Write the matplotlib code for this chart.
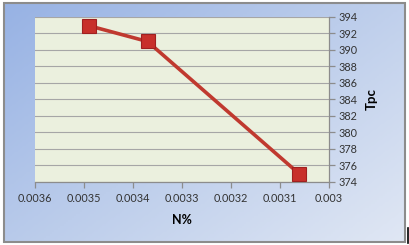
import numpy as np
import matplotlib.pyplot as plt
from matplotlib.colors import LinearSegmentedColormap
from matplotlib.patches import Rectangle

# data
n_pct = [0.003489, 0.00337, 0.003061]
tpc = [392.9, 391.0, 375.0]
x_ticks = [0.0036, 0.0035, 0.0034, 0.0033, 0.0032, 0.0031, 0.003]
x_labels = ["0.0036", "0.0035", "0.0034", "0.0033", "0.0032", "0.0031", "0.003"]
y_ticks = list(range(374, 395, 2))

plt.rcParams['font.family'] = ['Lato', 'DejaVu Sans']

fig = plt.figure(figsize=(4.09, 2.45), dpi=100)

# background gradient panel with grey frame
bg = fig.add_axes([4/409, 1 - 242/245, 401/409, 239/245])
bg.set_axis_off()
cmap = LinearSegmentedColormap.from_list("bg", ["#97b2e4", "#bccdeb", "#e0e7f4"])
gx, gy = np.meshgrid(np.linspace(0, 1, 200), np.linspace(0, 1, 120))
grad = 0.55 * gx + 0.45 * gy
bg.imshow(grad, cmap=cmap, aspect='auto', extent=[0, 1, 1, 0])
bg.set_xlim(0, 1)
bg.set_ylim(1, 0)
bg.add_patch(Rectangle((0, 0), 1, 1, fill=False, edgecolor="#8c8c8c", lw=1.5,
                       transform=bg.transAxes, clip_on=False))

# stray black mark at bottom right
fig.add_artist(plt.Line2D([407.5/409, 407.5/409], [1 - 243/245, 1 - 228/245],
                          color="black", lw=1.2))

ax = fig.add_axes([34.7/409, 1 - 182/245, 294.3/409, 165.3/245])
ax.set_facecolor("#ebf0de")
ax.plot(n_pct, tpc, color="#c0392f", lw=2.6, marker="s", markersize=9.5,
        markerfacecolor="#c8302b", markeredgecolor="#a02020", markeredgewidth=0.8,
        solid_capstyle="round", zorder=3)

ax.set_xlim(0.0036, 0.003)
ax.set_ylim(374, 394)
ax.set_xticks(x_ticks)
ax.set_xticklabels(x_labels)
ax.set_yticks(y_ticks)
ax.yaxis.tick_right()
ax.yaxis.set_label_position("right")
ax.grid(axis="y", color="#a6a6a6", lw=0.8)
ax.set_axisbelow(True)

for side in ["top", "left"]:
    ax.spines[side].set_visible(False)
for side in ["bottom", "right"]:
    ax.spines[side].set_color("#8c8c8c")
    ax.spines[side].set_linewidth(0.9)

ax.tick_params(axis="both", colors="#8c8c8c", labelcolor="#333333", labelsize=7.8,
               length=4, width=0.9)
ax.tick_params(axis="x", pad=4)
ax.tick_params(axis="y", pad=3)

ax.set_xlabel("N%", fontsize=9, fontweight="bold", labelpad=7)
ax.set_ylabel("Tpc", fontsize=9.5, fontweight="bold", labelpad=6)

fig.savefig("out.png", dpi=100, facecolor="white")
